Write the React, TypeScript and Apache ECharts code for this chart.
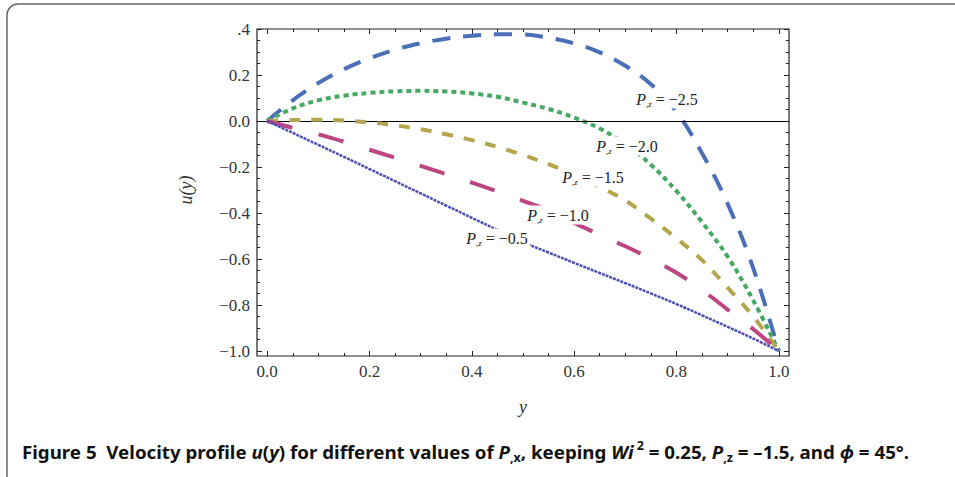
import React, { useEffect, useRef } from "react";
import * as echarts from "echarts";

// y coordinate (horizontal axis)
const yPos = [0, 0.05, 0.1, 0.15, 0.2, 0.25, 0.3, 0.35, 0.4, 0.45, 0.5, 0.55, 0.6, 0.65, 0.7, 0.75, 0.8, 0.85, 0.9, 0.95, 1];

// u(y) for each P,z value
const uM25 = [0, 0.09, 0.165, 0.225, 0.272, 0.31, 0.338, 0.358, 0.371, 0.377, 0.376, 0.362, 0.337, 0.298, 0.24, 0.16, 0.04, -0.14, -0.36, -0.64, -1];
const uM20 = [0, 0.055, 0.09, 0.11, 0.122, 0.129, 0.131, 0.128, 0.12, 0.105, 0.08, 0.052, 0.015, -0.033, -0.1, -0.19, -0.305, -0.44, -0.59, -0.78, -1];
const uM15 = [0, 0.004, 0.005, 0.002, -0.006, -0.019, -0.036, -0.058, -0.083, -0.113, -0.148, -0.188, -0.234, -0.286, -0.346, -0.425, -0.51, -0.605, -0.725, -0.85, -1];
const uM10 = [0, -0.03, -0.058, -0.09, -0.125, -0.16, -0.195, -0.232, -0.268, -0.306, -0.347, -0.39, -0.443, -0.495, -0.545, -0.6, -0.66, -0.735, -0.82, -0.905, -1];
const uM05 = [0, -0.052, -0.104, -0.156, -0.209, -0.262, -0.315, -0.368, -0.421, -0.474, -0.527, -0.572, -0.617, -0.661, -0.705, -0.75, -0.796, -0.845, -0.895, -0.946, -1];

const curveLabels = ["−2.5", "−2.0", "−1.5", "−1.0", "−0.5"];

const SERIF = "'Liberation Serif', 'DejaVu Serif', serif";
const SANS = "'Noto Sans', 'Open Sans', sans-serif";

function pairs(vals: number[]) {
  return yPos.map((x, i) => [x, vals[i]]);
}

function fmtX(v: number) {
  const s = (Math.round(v * 10) / 10).toFixed(1);
  return s.replace("-", "−");
}

function fmtY(v: number) {
  if (Math.abs(v - 0.4) < 1e-9) return ".4";
  return fmtX(v);
}

export default function App() {
  const ref = useRef<HTMLDivElement>(null);
  useEffect(() => {
    if (!ref.current) return;
    const chart = echarts.init(ref.current, null, { renderer: "svg" });

    const tickStyle = { color: "#222", width: 1 };
    const seriesDefs = [
      { name: "P=-2.5", data: uM25, color: "#4A6FB6", dash: [18, 13], width: 4 },
      { name: "P=-2.0", data: uM20, color: "#45A863", dash: [5, 4], width: 4 },
      { name: "P=-1.5", data: uM15, color: "#B4A64E", dash: [11, 11], width: 4 },
      { name: "P=-1.0", data: uM10, color: "#BC4682", dash: [26, 27], width: 4 },
      { name: "P=-0.5", data: uM05, color: "#4E4EB2", dash: [3, 1], width: 2.5 },
    ];

    const labelPos = [
      [667, 99],
      [627, 146],
      [593, 177],
      [558, 215],
      [497, 238],
    ];

    const curveLabelEls = curveLabels.map((t, i) => ({
      type: "text",
      x: labelPos[i][0],
      y: labelPos[i][1],
      z: 100,
      style: {
        text: `{p|P}{s|,z}{n| = ${t}}`,
        align: "center",
        verticalAlign: "middle",
        backgroundColor: "#fff",
        padding: [0, 2],
        rich: {
          p: { fontFamily: SERIF, fontStyle: "italic", fontSize: 16, lineHeight: 19, fill: "#222" },
          s: { fontFamily: SERIF, fontStyle: "italic", fontSize: 9, lineHeight: 10, verticalAlign: "bottom", fill: "#222" },
          n: { fontFamily: SERIF, fontSize: 16, lineHeight: 19, fill: "#222" },
        },
      },
    }));

    const capBase = { fontFamily: SANS, fontWeight: "bold", fontSize: 18, lineHeight: 24, fill: "#111" };
    const capItal = { ...capBase, fontStyle: "italic" };
    const capSub = { ...capBase, fontSize: 12, lineHeight: 13, verticalAlign: "bottom" };
    const capSup = { ...capBase, fontSize: 12, lineHeight: 13, verticalAlign: "top", padding: [0, 0, 0, 3] };

    const tickAxisCommon = {
      axisLine: { show: false },
      splitLine: { show: false },
      axisTick: { inside: true, length: 5, lineStyle: tickStyle },
      minorTick: { show: true, splitNumber: 4, length: 3, lineStyle: tickStyle },
    };

    const option: any = {
      animation: false,
      backgroundColor: "#fff",
      grid: [
        { left: 257, right: 166, top: 29, bottom: 121, show: true, borderColor: "#222", borderWidth: 1.2, backgroundColor: "transparent" },
        { left: 267.23, right: 176.23, top: 29, bottom: 121 },
        { left: 257, right: 166, top: 29, bottom: 126 },
      ],
      xAxis: [
        { gridIndex: 0, type: "value", min: -0.02, max: 1.02, show: false, splitLine: { show: false } },
        {
          gridIndex: 1, type: "value", min: 0, max: 1, interval: 0.2, position: "bottom",
          ...tickAxisCommon,
          axisLabel: { formatter: fmtX, fontFamily: SERIF, fontSize: 17, color: "#333", margin: 7 },
          name: "y", nameLocation: "middle", nameGap: 42,
          nameTextStyle: { fontFamily: SERIF, fontStyle: "italic", fontSize: 18, color: "#333" },
        },
        {
          gridIndex: 1, type: "value", min: 0, max: 1, interval: 0.2, position: "top",
          ...tickAxisCommon,
          axisLabel: { show: false },
        },
        { gridIndex: 2, type: "value", min: 0, max: 1, show: false, splitLine: { show: false } },
      ],
      yAxis: [
        { gridIndex: 0, type: "value", min: -1.022, max: 0.4, show: false, splitLine: { show: false } },
        { gridIndex: 1, type: "value", min: 0, max: 1, show: false, splitLine: { show: false } },
        {
          gridIndex: 2, type: "value", min: -1, max: 0.4, interval: 0.2, position: "left",
          ...tickAxisCommon,
          axisLabel: { formatter: fmtY, fontFamily: SERIF, fontSize: 17, color: "#333", margin: 7 },
          name: "u(y)", nameLocation: "middle", nameGap: 62,
          nameTextStyle: { fontFamily: SERIF, fontStyle: "italic", fontSize: 18, color: "#333" },
        },
        {
          gridIndex: 2, type: "value", min: -1, max: 0.4, interval: 0.2, position: "right",
          ...tickAxisCommon,
          axisLabel: { show: false },
        },
      ],
      series: seriesDefs.map((s, i) => ({
        type: "line",
        name: s.name,
        xAxisIndex: 0,
        yAxisIndex: 0,
        data: pairs(s.data),
        smooth: 0.4,
        showSymbol: false,
        symbol: "none",
        silent: true,
        z: 3 + i,
        lineStyle: { color: s.color, width: s.width, type: s.dash, cap: "butt" },
        markLine: i === 0 ? {
          silent: true,
          symbol: "none",
          label: { show: false },
          lineStyle: { color: "#000", type: "solid", width: 1 },
          data: [{ yAxis: 0 }],
        } : undefined,
      })),
      graphic: [
        {
          type: "rect",
          z: 0,
          shape: { x: 7, y: 4, width: 970, height: 490, r: 11 },
          style: { fill: "none", stroke: "#666", lineWidth: 1.5 },
        },
        ...curveLabelEls,
        {
          type: "text",
          x: 22,
          y: 452,
          scaleX: 1.04,
          z: 100,
          style: {
            text:
              "{b|Figure 5  Velocity profile }{i|u}{b|(}{i|y}{b|) for different values of }{i|P}{sub|,x}{b|, keeping }{i|Wi}{sup|2}{b| = 0.25, }{i|P}{sub|,z}{b| = –1.5, and }{i|ϕ}{b| = 45°.}",
            align: "left",
            verticalAlign: "middle",
            rich: { b: capBase, i: capItal, sub: capSub, sup: capSup },
          },
        },
      ],
    };

    chart.setOption(option);
    return () => chart.dispose();
  }, []);

  return <div ref={ref} style={{ position: "fixed", left: 0, top: 0, width: 955, height: 477 }} />;
}
